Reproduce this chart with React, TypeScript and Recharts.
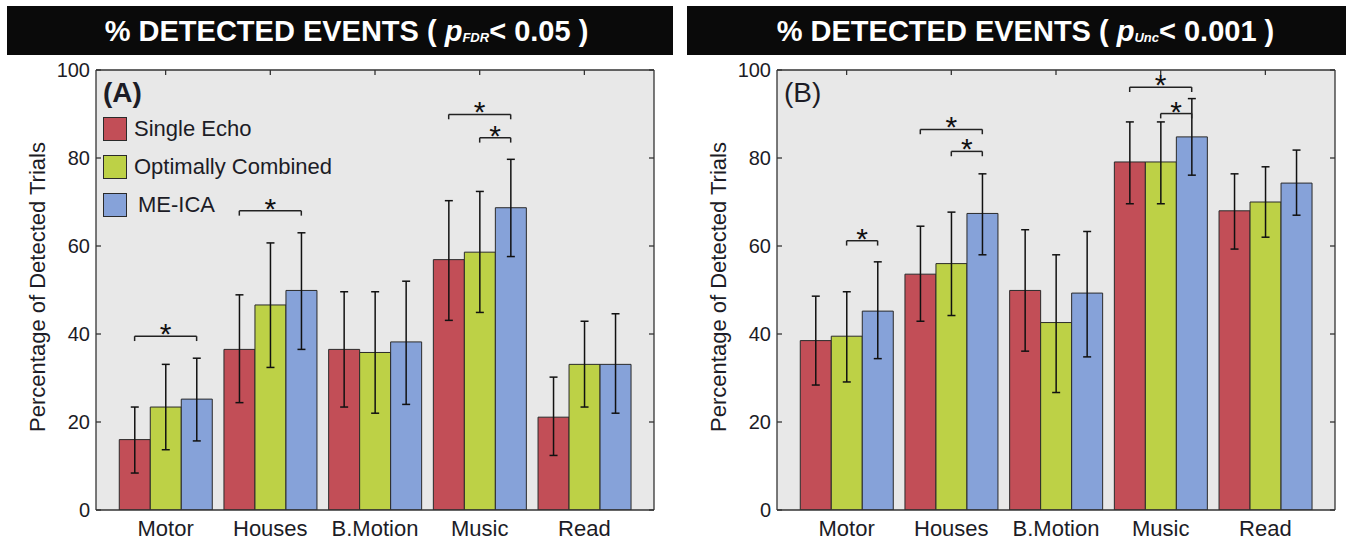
import React from 'react';
import {
  BarChart,
  Bar,
  XAxis,
  YAxis,
  CartesianGrid,
  ErrorBar,
  ReferenceLine,
  ReferenceDot,
  Legend,
} from 'recharts';

const FONT = '"Liberation Sans", Arial, Helvetica, sans-serif';

const CATEGORIES = ['Motor', 'Houses', 'B.Motion', 'Music', 'Read'];
const CATEGORY_X = [1, 2, 3, 4, 5];
const SERIES_NAMES = ['Single Echo', 'Optimally Combined', 'ME-ICA'];
const SERIES_COLORS = ['#C24E57', '#BDD146', '#86A2D9'];
const Y_TICKS = [0, 20, 40, 60, 80, 100];

// Panel A: pFDR < 0.05
const A_SINGLE = [16.0, 36.5, 36.5, 56.9, 21.1];
const A_SINGLE_LOW = [8.4, 24.4, 23.4, 43.1, 12.4];
const A_SINGLE_HIGH = [23.4, 48.9, 49.6, 70.3, 30.2];
const A_OPTCOMB = [23.4, 46.6, 35.8, 58.6, 33.1];
const A_OPTCOMB_LOW = [13.7, 32.4, 22.0, 44.9, 23.4];
const A_OPTCOMB_HIGH = [33.1, 60.7, 49.6, 72.4, 42.9];
const A_MEICA = [25.2, 49.9, 38.2, 68.7, 33.1];
const A_MEICA_LOW = [15.7, 36.5, 24.0, 57.6, 22.0];
const A_MEICA_HIGH = [34.5, 63.0, 52.0, 79.7, 44.6];

// Panel B: pUnc < 0.001
const B_SINGLE = [38.5, 53.6, 49.9, 79.1, 68.0];
const B_SINGLE_LOW = [28.4, 42.9, 36.1, 69.6, 59.3];
const B_SINGLE_HIGH = [48.6, 64.5, 63.7, 88.2, 76.4];
const B_OPTCOMB = [39.5, 56.0, 42.6, 79.1, 70.0];
const B_OPTCOMB_LOW = [29.1, 44.2, 26.7, 69.6, 62.0];
const B_OPTCOMB_HIGH = [49.6, 67.7, 58.0, 88.2, 78.0];
const B_MEICA = [45.2, 67.4, 49.3, 84.8, 74.3];
const B_MEICA_LOW = [34.4, 58.0, 34.8, 76.1, 67.0];
const B_MEICA_HIGH = [56.4, 76.4, 63.3, 93.5, 81.8];

// significance brackets: category, first bar, last bar (0..2), height
const A_BRACKETS = [
  { cat: 1, from: 0, to: 2, y: 39.5 },
  { cat: 2, from: 0, to: 2, y: 68.0 },
  { cat: 4, from: 0, to: 2, y: 89.9 },
  { cat: 4, from: 1, to: 2, y: 84.6 },
];
const B_BRACKETS = [
  { cat: 1, from: 1, to: 2, y: 61.2 },
  { cat: 2, from: 0, to: 2, y: 86.5 },
  { cat: 2, from: 1, to: 2, y: 81.5 },
  { cat: 4, from: 0, to: 2, y: 96.1 },
  { cat: 4, from: 1, to: 2, y: 90.1 },
];

const PLOT_W = 558;
const X_DOMAIN = [0.335, 5.665];
const BAR_SIZE = 31;
const BAR_UNITS = (BAR_SIZE * (X_DOMAIN[1] - X_DOMAIN[0])) / PLOT_W;
const BRACKET_DROP = 1.1;

function buildRows(vals: number[][], lows: number[][], highs: number[][]) {
  return CATEGORIES.map((name, i) => {
    const row: any = { x: CATEGORY_X[i], name };
    vals.forEach((v, s) => {
      row[`s${s}`] = v[i];
      row[`e${s}`] = [v[i] - lows[s][i], highs[s][i] - v[i]];
    });
    return row;
  });
}

const rowsA = buildRows(
  [A_SINGLE, A_OPTCOMB, A_MEICA],
  [A_SINGLE_LOW, A_OPTCOMB_LOW, A_MEICA_LOW],
  [A_SINGLE_HIGH, A_OPTCOMB_HIGH, A_MEICA_HIGH]
);
const rowsB = buildRows(
  [B_SINGLE, B_OPTCOMB, B_MEICA],
  [B_SINGLE_LOW, B_OPTCOMB_LOW, B_MEICA_LOW],
  [B_SINGLE_HIGH, B_OPTCOMB_HIGH, B_MEICA_HIGH]
);

const TEXT = '#1c1c26';
const AXIS = '#333';

// legend drawn in series order (recharts sorts its payload by name)
const makeLegend = (tag: string, bold: boolean, entries: boolean) => () => (
  <div style={{ fontFamily: FONT, color: TEXT, textAlign: 'left' }}>
    <div style={{ fontSize: 28, lineHeight: '28px', fontWeight: bold ? 700 : 400 }}>{tag}</div>
    {entries &&
      SERIES_NAMES.map((name, i) => (
        <div key={name} style={{ display: 'flex', alignItems: 'center', height: 24, marginTop: i === 0 ? 10 : 14 }}>
          <span
            style={{
              width: 22,
              height: 22,
              background: SERIES_COLORS[i],
              border: '1px solid #2a2a2a',
              display: 'inline-block',
            }}
          />
          <span style={{ fontSize: 22, lineHeight: '24px', marginLeft: i === 2 ? 11 : 7, whiteSpace: 'nowrap' }}>
            {name}
          </span>
        </div>
      ))}
  </div>
);

const yLabel = (props: any) => {
  const vb = props.viewBox;
  const cx = vb.x + 37;
  const cy = vb.y + vb.height / 2 - 3;
  return (
    <text
      x={cx}
      y={cy}
      transform={`rotate(-90, ${cx}, ${cy})`}
      textAnchor="middle"
      dominantBaseline="central"
      fontSize={22}
      fill={TEXT}
    >
      Percentage of Detected Trials
    </text>
  );
};

const star = (p: any) => (
  <text x={p.cx} y={p.cy + 8} textAnchor="middle" fontSize={30} fill="#111">
    *
  </text>
);

const noLabel = () => '';

function Panel({ rows, brackets, tag, bold, legend, width, marginRight }: any) {
  return (
    <BarChart
      width={width}
      height={542}
      data={rows}
      margin={{ top: 70, right: marginRight, bottom: 0, left: 0 }}
      barGap={0}
      barSize={BAR_SIZE}
      style={{ fontFamily: FONT }}
    >
      <CartesianGrid fill="#E8E8E8" horizontal={false} vertical={false} />
      <XAxis
        dataKey="x"
        type="number"
        domain={X_DOMAIN}
        allowDataOverflow
        ticks={CATEGORY_X}
        interval={0}
        tickFormatter={(v: number) => CATEGORIES[v - 1]}
        tickLine={false}
        tickSize={6}
        tickMargin={4}
        height={32}
        tick={{ fontSize: 22, fill: TEXT }}
        stroke={AXIS}
        strokeWidth={1.3}
      />
      <XAxis
        xAxisId="top"
        orientation="top"
        mirror
        dataKey="x"
        type="number"
        domain={X_DOMAIN}
        allowDataOverflow
        ticks={CATEGORY_X}
        interval={0}
        tickFormatter={noLabel}
        tickSize={5}
        stroke={AXIS}
        strokeWidth={1.3}
      />
      <YAxis
        domain={[0, 100]}
        allowDataOverflow
        ticks={Y_TICKS}
        interval={0}
        width={96}
        tickSize={-5}
        tickMargin={11}
        tick={{ fontSize: 20, fill: TEXT }}
        stroke={AXIS}
        strokeWidth={1.3}
        label={{ content: yLabel }}
      />
      <YAxis
        yAxisId="right"
        orientation="right"
        mirror
        domain={[0, 100]}
        allowDataOverflow
        ticks={Y_TICKS}
        interval={0}
        tickFormatter={noLabel}
        tickSize={5}
        stroke={AXIS}
        strokeWidth={1.3}
      />
      <Legend
        layout="vertical"
        align="center"
        verticalAlign="middle"
        wrapperStyle={{ left: 103, top: 79, width: 'auto' }}
        content={makeLegend(tag, bold, legend)}
      />
      {SERIES_NAMES.map((name, s) => (
        <Bar
          key={name}
          dataKey={`s${s}`}
          name={name}
          fill={SERIES_COLORS[s]}
          stroke="#2a2a2a"
          strokeWidth={1}
          isAnimationActive={false}
        >
          <ErrorBar dataKey={`e${s}`} width={4} stroke="#111" strokeWidth={1.5} direction="y" />
        </Bar>
      ))}
      {brackets.flatMap((b: any, k: number) => {
        const x1 = b.cat + (b.from - 1) * BAR_UNITS;
        const x2 = b.cat + (b.to - 1) * BAR_UNITS;
        const low = b.y - BRACKET_DROP;
        return [
          <ReferenceLine key={`h${k}`} segment={[{ x: x1, y: b.y }, { x: x2, y: b.y }]} stroke="#222" strokeWidth={1.5} />,
          <ReferenceLine key={`l${k}`} segment={[{ x: x1, y: b.y }, { x: x1, y: low }]} stroke="#222" strokeWidth={1.5} />,
          <ReferenceLine key={`r${k}`} segment={[{ x: x2, y: b.y }, { x: x2, y: low }]} stroke="#222" strokeWidth={1.5} />,
          <ReferenceDot key={`s${k}`} x={(x1 + x2) / 2} y={b.y} r={1} shape={star} />,
        ];
      })}
    </BarChart>
  );
}

const titleBox: React.CSSProperties = {
  position: 'absolute',
  top: 6,
  height: 49,
  background: '#0a0a0a',
  color: '#fff',
  fontFamily: FONT,
  fontWeight: 700,
  fontSize: 29,
  lineHeight: '51px',
  textAlign: 'center',
  whiteSpace: 'nowrap',
  boxSizing: 'border-box',
};

const sub: React.CSSProperties = { fontSize: 13, fontStyle: 'italic', verticalAlign: '-1px' };

export default function App() {
  return (
    <div
      style={{
        position: 'absolute',
        left: 0,
        top: 0,
        width: 1354,
        height: 542,
        background: '#fff',
        fontFamily: FONT,
        overflow: 'hidden',
      }}
    >
      <div style={{ ...titleBox, left: 7, width: 666, paddingLeft: 13 }}>
        % DETECTED EVENTS ( <i>p</i>
        <span style={sub}>FDR</span>&lt; 0.05 )
      </div>
      <div style={{ ...titleBox, left: 687, width: 659, paddingLeft: 18 }}>
        % DETECTED EVENTS ( <i>p</i>
        <span style={sub}>Unc</span>&lt; 0.001 )
      </div>
      <div style={{ position: 'absolute', left: 0, top: 0 }}>
        <Panel rows={rowsA} brackets={A_BRACKETS} tag="(A)" bold legend width={680} marginRight={26} />
      </div>
      <div style={{ position: 'absolute', left: 681, top: 0 }}>
        <Panel rows={rowsB} brackets={B_BRACKETS} tag="(B)" bold={false} legend={false} width={673} marginRight={19} />
      </div>
    </div>
  );
}
